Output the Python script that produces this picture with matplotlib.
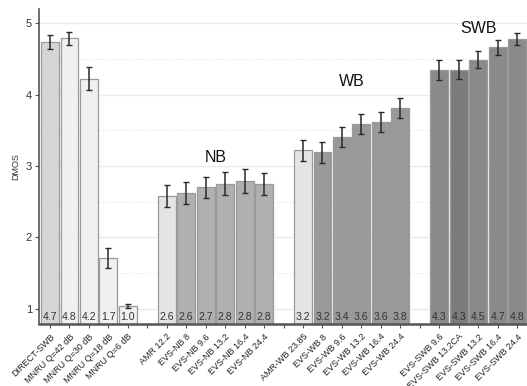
import matplotlib
matplotlib.use("Agg")
import matplotlib.pyplot as plt
import numpy as np

plt.rcParams['font.family'] = ['Liberation Sans', 'DejaVu Sans']

labels = ["DIRECT-SWB", "MNRU Q=42 dB", "MNRU Q=30 dB", "MNRU Q=18 dB", "MNRU Q=6 dB", "",
          "AMR 12.2", "EVS-NB 8", "EVS-NB 9.6", "EVS-NB 13.2", "EVS-NB 16.4", "EVS-NB 24.4", "",
          "AMR-WB 23.85", "EVS-WB 8", "EVS-WB 9.6", "EVS-WB 13.2", "EVS-WB 16.4", "EVS-WB 24.4", "",
          "EVS-SWB 9.6", "EVS-SWB 13.2CA", "EVS-SWB 13.2", "EVS-SWB 16.4", "EVS-SWB 24.4"]
values = [4.74, 4.79, 4.22, 1.71, 1.04, None,
          2.58, 2.62, 2.70, 2.75, 2.79, 2.75, None,
          3.22, 3.19, 3.41, 3.59, 3.62, 3.81, None,
          4.35, 4.35, 4.49, 4.66, 4.78]
errors = [0.10, 0.09, 0.16, 0.14, 0.03, None,
          0.15, 0.15, 0.15, 0.16, 0.17, 0.15, None,
          0.15, 0.15, 0.14, 0.14, 0.14, 0.14, None,
          0.14, 0.13, 0.12, 0.11, 0.08]
colors = ["#d6d6d6", "#f0f0f0", "#f0f0f0", "#f0f0f0", "#f0f0f0", None,
          "#e4e4e4", "#b0b0b0", "#b0b0b0", "#b0b0b0", "#b0b0b0", "#b0b0b0", None,
          "#e4e4e4", "#999999", "#999999", "#999999", "#999999", "#999999", None,
          "#8a8a8a", "#7c7c7c", "#8a8a8a", "#8a8a8a", "#8a8a8a"]
groups = [("NB", 8.5, 3.12), ("WB", 15.5, 4.18), ("SWB", 22.0, 4.92)]

fig = plt.figure(figsize=(5.27, 3.86), dpi=100)
ax = fig.add_axes([0.074, 0.161, 0.926, 0.816])

bottom = 0.79
for i, (v, e, c) in enumerate(zip(values, errors, colors)):
    if v is None:
        continue
    ax.bar(i, v - bottom, bottom=bottom, width=0.92, color=c, edgecolor="#9a9a9a",
           linewidth=0.9, zorder=2)
    ax.errorbar(i, v, yerr=e, fmt='none', ecolor="#2a2a2a", elinewidth=1.1,
                capsize=2, capthick=1.0, zorder=3)
    ax.text(i, 0.885, f"{v:.1f}", ha='center', va='center', fontsize=7.6, color="#333333", zorder=4)

for name, x, y in groups:
    ax.text(x, y, name, ha='center', va='center', fontsize=11.5, color="#111111")

ax.set_xlim(-0.565, 24.51)
ax.set_ylim(bottom, 5.2)
ax.set_xticks(np.arange(len(labels)))
ax.set_xticklabels(labels, rotation=45, ha='right', rotation_mode='anchor', fontsize=6.5, color="#222222")
ax.set_yticks([1, 2, 3, 4, 5])
ax.set_yticklabels(["1", "2", "3", "4", "5"], fontsize=8, color="#333333")
ax.set_yticks([1.5, 2.5, 3.5, 4.5], minor=True)
ax.tick_params(axis='y', which='minor', length=0)
ax.tick_params(axis='both', which='major', length=3, width=0.8, color="#555555", pad=2)
ax.tick_params(axis='x', which='major', pad=3)
ax.grid(axis='y', which='major', color="#ebebeb", linewidth=1.0, zorder=0)
ax.grid(axis='y', which='minor', color="#e0e0e0", linewidth=0.8, linestyle=(0, (1, 2)), zorder=0)
ax.set_axisbelow(True)
ax.set_ylabel("DMOS", fontsize=6.5, color="#333333", labelpad=4)

for s in ['top', 'right']:
    ax.spines[s].set_visible(False)
ax.spines['left'].set_color("#555555")
ax.spines['left'].set_linewidth(1.2)
ax.spines['bottom'].set_color("#555555")
ax.spines['bottom'].set_linewidth(1.8)

fig.savefig("out.png", dpi=100)
